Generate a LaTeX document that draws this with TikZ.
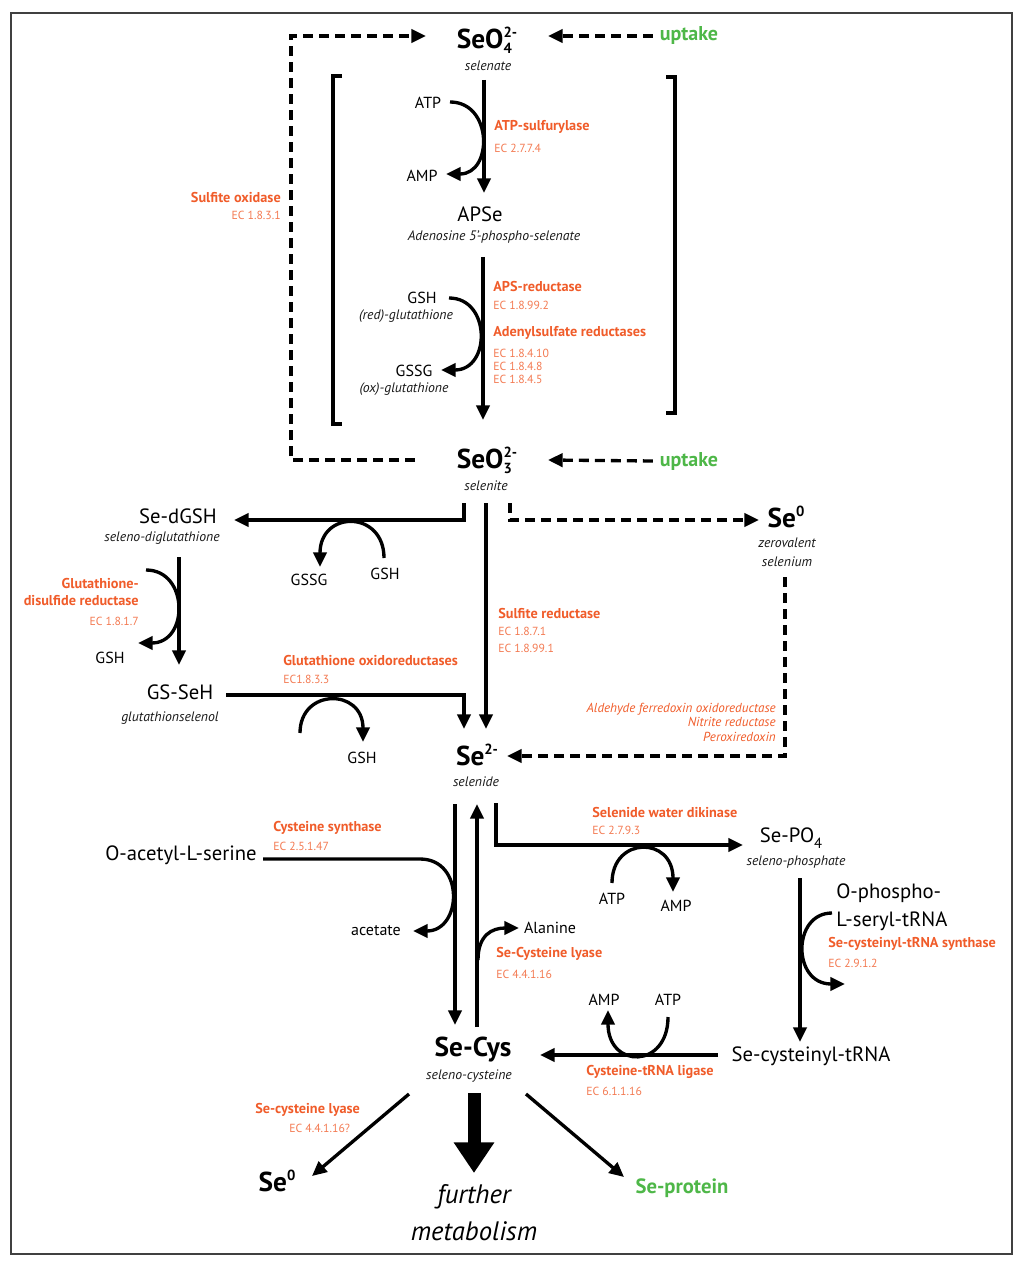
\documentclass[tikz,border=0pt]{standalone}
\usepackage{fontspec}
\setmainfont{PT Sans}
\usepackage{xcolor}
\usetikzlibrary{arrows.meta}
\definecolor{enzorange}{RGB}{240,92,42}
\definecolor{ecorange}{RGB}{243,122,82}
\definecolor{upgreen}{RGB}{78,183,72}
\tikzset{
	big/.style={inner sep=0pt, font=\fontsize{15.5}{21}\selectfont},
	ion/.style={inner sep=0pt, font=\bfseries\fontsize{20.5}{22}\selectfont},
	note/.style={inner sep=0pt, text=black!90, font=\itshape\fontsize{10.3}{14.25}\selectfont},
	cof/.style={inner sep=0pt, font=\fontsize{12}{14}\selectfont},
	enz/.style={inner sep=0pt, text=enzorange, font=\bfseries\fontsize{10.7}{13}\selectfont},
	ec/.style={inner sep=0pt, text=ecorange, font=\fontsize{8.8}{9.75}\selectfont},
	enzit/.style={inner sep=0pt, text=enzorange, font=\itshape\fontsize{9.8}{10.9}\selectfont},
	uptk/.style={inner sep=0pt, text=upgreen, font=\bfseries\fontsize{15}{17}\selectfont},
	rxn/.style={line width=2.5pt, -{Triangle[length=11pt,width=10pt]}},
	dsh/.style={rxn, dash pattern=on 7.5pt off 4.5pt},
	brk/.style={line width=2.5pt},
}
\newcommand{\chg}[2]{{\fontsize{11}{11}\selectfont\rlap{\raisebox{-3.5pt}{#1}}\raisebox{8.5pt}{#2}}}

\begin{document}
\begin{tikzpicture}[x=0.75pt, y=-0.75pt]
	\useasboundingbox (0,0) rectangle (1024,1269);
	\draw [line width=1.5pt, black!75] (11,13) rectangle (1012,1254);

	\node [ion] (seo4) at (487,40) {SeO\chg{4}{2-}};
	\node [note] (seo4n) at (488,66) {selenate};
	\node [uptk] (up1) at (689,36) {uptake};
	\coordinate (up1e) at (548,36);
	\draw [dsh] ([xshift=-5pt]up1.west) -- (up1e);

	\coordinate (ox1) at (415,460);
	\coordinate (ox2) at (291,460);
	\coordinate (ox3) at (291,36);
	\coordinate (ox4) at (426,36);
	\draw [dsh] (ox1) -- (ox2) -- (ox3) -- (ox4);
	\node [enz, anchor=east] (sox) at (281,198) {Sulfite oxidase};
	\node [ec, anchor=east] (soxec) at (281,215) {EC 1.8.3.1};

	\draw [brk] (342,76) -- (333,76) -- (333,424) -- (342,424);
	\draw [brk] (666,77) -- (675,77) -- (675,413) -- (666,413);

	\coordinate (a1) at (484,80);
	\coordinate (a2) at (484,193);
	\draw [rxn] (a1) -- (a2);
	\node [cof] (atp1) at (428,103) {ATP};
	\node [cof] (amp1) at (422,176) {AMP};
	\coordinate (c1s) at (450,102);
	\coordinate (c1e) at (446,174);
	\draw [rxn] (c1s) .. controls (493,102) and (493,174) .. (c1e);
	\node [enz, anchor=west] (atps) at (494,127) {ATP-sulfurylase};
	\node [ec, anchor=west] (atpsec) at (494,148) {EC 2.7.7.4};

	\node [big] (apse) at (480,214) {APSe};
	\node [note] (apsen) at (494,237) {Adenosine 5'-phospho-selenate};

	\coordinate (b1) at (483,257);
	\coordinate (b2) at (483,420);
	\draw [rxn] (b1) -- (b2);
	\node [cof] (gsh1) at (422,298) {GSH};
	\node [note] (gsh1n) at (406,316) {(red)-glutathione};
	\node [cof] (gssg1) at (414,371) {GSSG};
	\node [note] (gssg1n) at (404,389) {(ox)-glutathione};
	\coordinate (c2s) at (449,298);
	\coordinate (c2e) at (441,370);
	\draw [rxn] (c2s) .. controls (491,298) and (491,370) .. (c2e);
	\node [enz, anchor=west] (apsr) at (493,287) {APS-reductase};
	\node [ec, anchor=west] (apsrec) at (493,305) {EC 1.8.99.2};
	\node [enz, anchor=west] (adr) at (493,333) {Adenylsulfate reductases};
	\node [ec, anchor=west, align=left] (adrec) at (493,366) {EC 1.8.4.10\\EC 1.8.4.8\\EC 1.8.4.5};

	\node [ion] (seo3) at (487,460) {SeO\chg{3}{2-}};
	\node [note] (seo3n) at (486,486) {selenite};
	\node [uptk] (up2) at (689,461) {uptake};
	\coordinate (up2e) at (548,460);
	\draw [dsh] ([xshift=-5pt]up2.west) -- (up2e);

	\node [big] (sedgsh) at (178,516) {Se-dGSH};
	\node [note] (sedgshn) at (162,538) {seleno-diglutathione};
	\coordinate (d1) at (464,503);
	\coordinate (d2) at (464,520);
	\coordinate (d3) at (234,520);
	\draw [rxn] (d1) -- (d2) -- (d3);
	\node [cof] (gssg2) at (309,580) {GSSG};
	\node [cof] (gsh2) at (385,574) {GSH};
	\coordinate (c3s) at (384,558);
	\coordinate (c3e) at (320,567);
	\draw [rxn] (c3s) .. controls (384,510) and (320,510) .. (c3e);

	\coordinate (e1) at (179,557);
	\coordinate (e2) at (179,665);
	\draw [rxn] (e1) -- (e2);
	\node [cof] (gsh3) at (110,658) {GSH};
	\coordinate (c4s) at (146,570);
	\coordinate (c4e) at (138,643);
	\draw [rxn] (c4s) .. controls (189,570) and (189,643) .. (c4e);
	\node [enz, anchor=east, align=right] (gdr) at (139,592) {Glutathione-\\disulfide reductase};
	\node [ec, anchor=east] (gdrec) at (139,621) {EC 1.8.1.7};

	\node [big] (gsseh) at (180,692) {GS-SeH};
	\node [note] (gssehn) at (170,718) {glutathionselenol};
	\coordinate (f1) at (226,695);
	\coordinate (f2) at (464,695);
	\coordinate (f3) at (464,729);
	\draw [rxn] (f1) -- (f2) -- (f3);
	\node [enz, anchor=west] (gor) at (283,661) {Glutathione oxidoreductases};
	\node [ec, anchor=west] (gorec) at (283,679) {EC1.8.3.3};
	\node [cof] (gsh4) at (362,758) {GSH};
	\coordinate (c5s) at (300,733);
	\coordinate (c5e) at (363,742);
	\draw [rxn] (c5s) .. controls (300,688) and (363,688) .. (c5e);

	\coordinate (g1) at (486,503);
	\coordinate (g2) at (486,729);
	\draw [rxn] (g1) -- (g2);
	\node [enz, anchor=west] (sr) at (498,614) {Sulfite reductase};
	\node [ec, anchor=west, align=left] (srec) at (498,640) {EC 1.8.7.1\\[3pt]EC 1.8.99.1};

	\node [ion] (se2) at (477,757) {Se\chg{}{2-}};
	\node [note] (se2n) at (476,782) {selenide};

	\node [ion] (se0a) at (786,519) {Se\chg{}{0}};
	\node [note, align=center] (se0an) at (787,552) {zerovalent\\selenium};
	\coordinate (h1) at (510,503);
	\coordinate (h2) at (510,520);
	\coordinate (h3) at (759,520);
	\draw [dsh] (h1) -- (h2) -- (h3);
	\coordinate (k1) at (785,577);
	\coordinate (k2) at (785,756);
	\coordinate (k3) at (507,756);
	\draw [dsh] (k1) -- (k2) -- (k3);
	\node [enzit, anchor=east, align=right] (afor) at (776,722) {Aldehyde ferredoxin oxidoreductase\\Nitrite reductase\\Peroxiredoxin};

	\coordinate (m1) at (455,804);
	\coordinate (m2) at (455,1025);
	\draw [rxn] (m1) -- (m2);
	\coordinate (n1) at (477,1027);
	\coordinate (n2) at (477,804);
	\draw [rxn] (n1) -- (n2);

	\node [big] (sepo4) at (791,838) {Se-PO\raisebox{-4pt}{\fontsize{11}{11}\selectfont 4}};
	\node [note] (sepo4n) at (796,862) {seleno-phosphate};
	\coordinate (p1) at (496,803);
	\coordinate (p2) at (496,845);
	\coordinate (p3) at (743,845);
	\draw [rxn] (p1) -- (p2) -- (p3);
	\node [enz, anchor=west] (swd) at (592,812) {Selenide water dikinase};
	\node [ec, anchor=west] (swdec) at (592,830) {EC 2.7.9.3};
	\node [cof] (atp2) at (612,899) {ATP};
	\node [cof] (amp2) at (676,906) {AMP};
	\coordinate (c6s) at (612,883);
	\coordinate (c6e) at (673,892);
	\draw [rxn] (c6s) .. controls (612,836) and (673,836) .. (c6e);

	\coordinate (q1) at (800,878);
	\coordinate (q2) at (800,1042);
	\draw [rxn] (q1) -- (q2);
	\node [big, anchor=west, align=left] (opsr) at (836,907) {O-phospho-\\L-seryl-tRNA};
	\coordinate (c7s) at (832,913);
	\coordinate (c7e) at (845,984);
	\draw [rxn] (c7s) .. controls (792,913) and (792,984) .. (c7e);
	\node [enz, anchor=west] (scts) at (828,944) {Se-cysteinyl-tRNA synthase};
	\node [ec, anchor=west] (sctsec) at (828,963) {EC 2.9.1.2};

	\node [big] (sctrna) at (811,1056) {Se-cysteinyl-tRNA};
	\coordinate (r1) at (718,1055);
	\coordinate (r2) at (540,1055);
	\draw [rxn] (r1) -- (r2);
	\node [cof] (amp3) at (604,1000) {AMP};
	\node [cof] (atp3) at (668,1000) {ATP};
	\coordinate (c8s) at (668,1017);
	\coordinate (c8e) at (608,1010);
	\draw [rxn] (c8s) .. controls (668,1069) and (608,1069) .. (c8e);
	\node [enz, anchor=west] (ctl) at (586,1072) {Cysteine-tRNA ligase};
	\node [ec, anchor=west] (ctlec) at (586,1091) {EC 6.1.1.16};

	\node [cof] (ala) at (550,928) {Alanine};
	\coordinate (c9s) at (478,960);
	\coordinate (c9e) at (519,928);
	\draw [rxn] (c9s) .. controls (478,935) and (492,928) .. (c9e);
	\node [enz, anchor=west] (scl) at (496,954) {Se-Cysteine lyase};
	\node [ec, anchor=west] (sclec) at (496,974) {EC 4.4.1.16};

	\node [big] (oas) at (181,855) {O-acetyl-L-serine};
	\node [cof] (acet) at (376,931) {acetate};
	\coordinate (s1) at (263,859);
	\coordinate (s2) at (420,859);
	\coordinate (s3) at (413,931);
	\draw [rxn] (s1) -- (s2) .. controls (465,859) and (462,931) .. (s3);
	\node [enz, anchor=west] (cs) at (273,828) {Cysteine synthase};
	\node [ec, anchor=west] (csec) at (273,846) {EC 2.5.1.47};

	\node [ion] (secys) at (473,1050) {Se-Cys};
	\node [note] (secysn) at (469,1076) {seleno-cysteine};

	\node [ion] (se0b) at (277,1183) {Se\chg{}{0}};
	\coordinate (t1) at (409,1094);
	\coordinate (t2) at (312,1176);
	\draw [rxn] (t1) -- (t2);
	\node [enz, anchor=west] (scl2) at (255,1110) {Se-cysteine lyase};
	\node [ec, anchor=west] (scl2ec) at (289,1128) {EC 4.4.1.16?};

	\node [inner sep=0pt, align=center, font=\itshape\fontsize{20}{27.75}\selectfont] (fm) at (474,1213) {further\\metabolism};
	\coordinate (u1) at (474,1093);
	\coordinate (u2) at (474,1173);
	\draw [line width=9.75pt, -{Triangle[length=23pt,width=29pt]}] (u1) -- (u2);

	\node [uptk, font=\bfseries\fontsize{15.5}{17}\selectfont] (seprot) at (682,1188) {Se-protein};
	\coordinate (v1) at (526,1094);
	\coordinate (v2) at (624,1177);
	\draw [rxn] (v1) -- (v2);
\end{tikzpicture}
\end{document}
